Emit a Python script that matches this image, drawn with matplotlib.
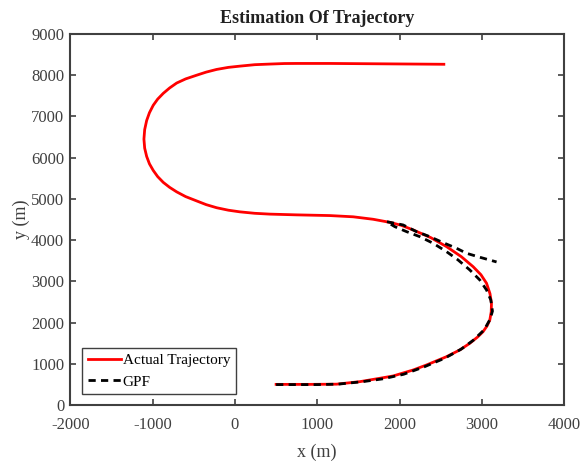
import numpy as np
import matplotlib.pyplot as plt

plt.rcParams['font.family'] = ['Liberation Serif', 'DejaVu Serif']
plt.rcParams['axes.unicode_minus'] = False

# actual trajectory (m)
actual_x = [500, 900, 1235, 1518, 1761, 1923, 2166, 2329, 2572, 2733, 2855, 2950,
            3016, 3065, 3098, 3115, 3118, 3100, 3058, 2990, 2895, 2750, 2572, 2380,
            2166, 2020, 1883, 1680, 1437, 1153, 749, 424, 240, 60, -80, -223, -350,
            -466, -600, -709, -795, -872, -940, -994, -1040, -1074, -1098, -1107,
            -1098, -1074, -1040, -994, -940, -872, -795, -709, -600, -466, -350,
            -223, -80, 60, 240, 424, 600, 749, 1153, 2539]
actual_y = [500, 500, 505, 566, 648, 704, 849, 971, 1172, 1335, 1497, 1650,
            1779, 1920, 2062, 2260, 2467, 2700, 2953, 3160, 3355, 3600, 3841, 4060,
            4246, 4360, 4430, 4505, 4565, 4595, 4612, 4630, 4650, 4685, 4725, 4785, 4860,
            4950, 5055, 5170, 5280, 5400, 5540, 5690, 5850, 6030, 6230, 6450,
            6680, 6900, 7090, 7270, 7420, 7560, 7690, 7810, 7910, 8000, 8075,
            8140, 8190, 8220, 8255, 8270, 8283, 8285, 8285, 8265]

# GPF estimate (m)
gpf_x = [500, 1000, 1250, 1550, 1800, 2050, 2300, 2550, 2750, 2900, 3030, 3100,
         3130, 3110, 3058, 2976, 2855, 2712, 2572, 2409, 2247, 2086, 1943, 1843,
         2044, 2207, 2369, 2530, 2693, 2815, 2976, 3180]
gpf_y = [495, 495, 505, 565, 635, 745, 925, 1135, 1355, 1575, 1825, 2075,
         2276, 2548, 2790, 3033, 3275, 3518, 3719, 3923, 4083, 4205, 4326, 4447,
         4367, 4205, 4083, 3938, 3802, 3680, 3584, 3470]

xticks = np.arange(-2000, 4001, 1000)
yticks = np.arange(0, 9001, 1000)

grey = '#404040'

fig = plt.figure(figsize=(5.82, 4.61), dpi=100)
ax = fig.add_axes([0.1211, 0.1215, 0.848, 0.8048])

ax.plot(actual_x, actual_y, color='red', lw=2.0, label='Actual Trajectory')
ax.plot(gpf_x, gpf_y, color='black', lw=2.0, ls=(0, (2.6, 1.9)), label='GPF')

ax.set_xlim(-2000, 4000)
ax.set_ylim(0, 9000)
ax.set_xticks(xticks)
ax.set_yticks(yticks)

ax.tick_params(direction='in', length=4, width=1.2, colors=grey,
               labelsize=12, top=True, right=True)
ax.tick_params(axis='x', pad=9)
ax.tick_params(axis='y', pad=4.5)
for sp in ax.spines.values():
    sp.set_color(grey)
    sp.set_linewidth(1.5)

ax.set_title('Estimation Of Trajectory', fontsize=13, fontweight='bold',
             color='#202020', pad=8)
ax.set_xlabel('x (m)', fontsize=13, color=grey, labelpad=7)
ax.set_ylabel('y (m)', fontsize=13, color=grey, labelpad=1)

leg = ax.legend(loc='lower left', bbox_to_anchor=(0.024, 0.03), borderaxespad=0,
                fontsize=11, fancybox=False, framealpha=1, edgecolor=grey,
                handlelength=2.2, handletextpad=0.1, borderpad=0.35,
                labelspacing=0.5)
leg.get_frame().set_linewidth(1.0)

fig.savefig('out.png', dpi=100)
